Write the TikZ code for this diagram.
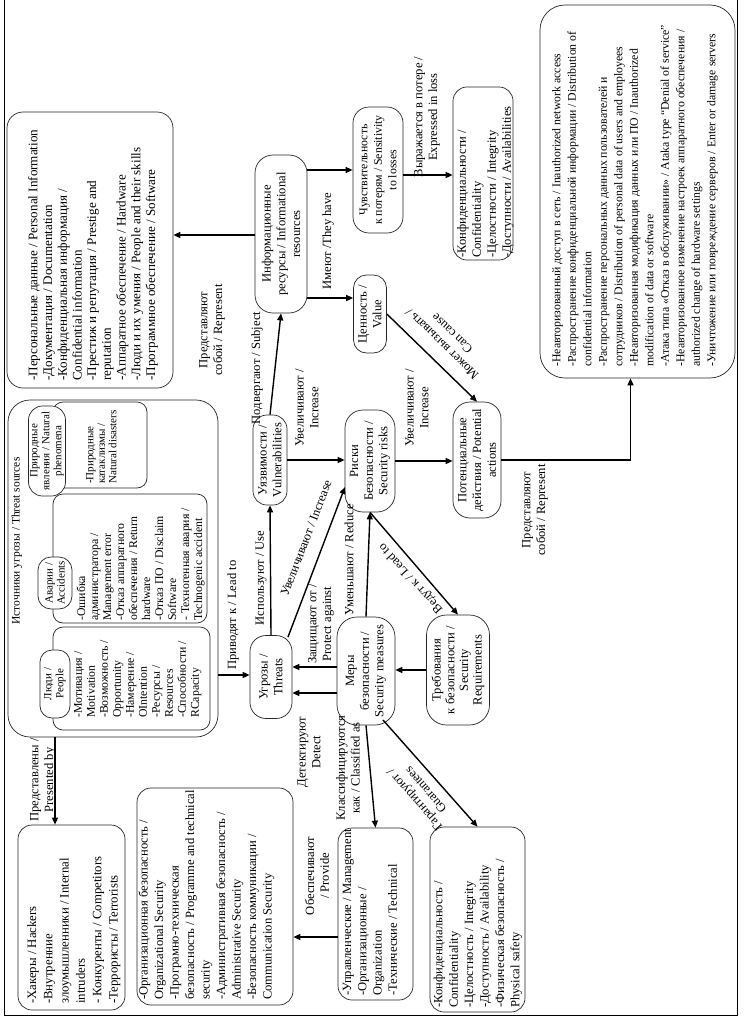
\documentclass[tikz,border=0pt]{standalone}
\usepackage{fontspec}
\setmainfont{Liberation Serif}
\usetikzlibrary{arrows.meta,calc}
\begin{document}
\begin{tikzpicture}[x=1pt,y=-1pt,
  base/.style={rotate=90, inner sep=1pt, font=\fontsize{12.6}{14.7}\selectfont},
  pill/.style n args={3}{base, draw=black!85, line width=0.7pt, fill=white, align=center, minimum width=#1, minimum height=#2, rounded corners=#3},
  spill/.style n args={3}{pill={#1}{#2}{#3}, font=\fontsize{11}{12}\selectfont},
  dbox/.style n args={2}{rotate=90, draw=black!85, line width=0.7pt, fill=white, minimum width=#1, minimum height=#2, rounded corners=10pt, inner sep=0pt},
  btext/.style={rotate=90, inner sep=0pt, align=left, anchor=north west},
  lbl/.style={base, align=center},
  dlbl/.style={inner sep=1pt, font=\fontsize{12.6}{14.7}\selectfont, align=center},
  small/.style={btext, font=\fontsize{11.8}{13}\selectfont},
  arr/.style={-{Triangle[length=7pt,width=6pt]}, line width=1.4pt},
]
\useasboundingbox (0,0) rectangle (744,1020);
\draw[line width=0.6pt] (4,0) -- (4,1015) -- (737,1015) -- (737,0);

% ---------- top area ----------
\node[dbox={276pt}{166pt}, rounded corners=16pt] (assets) at (90,250) {};
\node[btext, font=\fontsize{13.1}{14.7}\selectfont] (assetsT) at (28,381) {-Персональные данные / Personal Information\\-Документация / Documentation\\-Конфиденциальная информация /\\Confidential information\\-Престиж и репутация / Prestige and\\reputation\\-Аппаратное обеспечение / Hardware\\-Люди и их умения / People and their skills\\-Программное обеспечение / Software};

\node[pill={158pt}{52pt}{18pt}] (info) at (281,234) {Информационные\\ресурсы / Informational\\resources};
\node[pill={126pt}{50pt}{16pt}, font=\fontsize{11.8}{14.5}\selectfont] (sens) at (378,170) {Чувствительность\\к потерям / Sensitivity\\to losses};
\node[pill={78pt}{33pt}{13pt}] (value) at (370,314) {Ценность /\\Value};
\node[dbox={173pt}{60pt}, rounded corners=14pt] (cia1) at (483,173.5) {};
\node[btext, font=\fontsize{12.6}{15}\selectfont] (cia1T) at (457,258) {-Конфиденциальности /\\Confidentiality\\-Целостности / Integrity\\-Доступности / Availabilities};
\node[dbox={373pt}{195pt}, rounded corners=25pt] (threatsList) at (637.5,191.5) {};
\node[small, font=\fontsize{11.8}{15.5}\selectfont] (threatsT) at (552,367) {-Неавторизованный доступ в сеть / Inauthorized network access\\-Распространение конфиденциальной информации / Distribution of\\confidential information\\-Распространение персональных данных пользователей и\\сотрудников / Distribution of personal data of users and employees\\-Неавторизованная модификация данных или ПО / Inauthorized\\modification of data or software\\-Атака типа «Отказ в обслуживании» / Ataka type “Denial of service”\\-Неавторизованное изменение настроек аппаратного обеспечения /\\authorized change of hardware settings\\-Уничтожение или повреждение серверов / Enter or damage servers};
\node[pill={116pt}{48pt}{17pt}] (potential) at (477,460) {Потенциальные\\действия / Potential\\actions};

% ---------- threat sources ----------
\node[dbox={337pt}{210pt}, rounded corners=22pt] (sources) at (113,568.5) {};
\node[lbl, font=\fontsize{11.5}{13}\selectfont] (srcTitle) at (17,541) {Источники угрозы / Threat sources};
\node[dbox={86pt}{94pt}] (natDet) at (100,445) {};
\node[dbox={129pt}{154pt}] (accDet) at (130,558.5) {};
\node[dbox={103pt}{157pt}] (peoDet) at (131.5,678.5) {};
\node[small, font=\fontsize{11}{11.5}\selectfont] (natT) at (86,484) {-Природные\\катаклизмы /\\Natural disasters};
\node[small] (accT) at (76.5,621) {-Ошибка\\администратора /\\Management error\\-Отказ аппаратного\\обеспечения / Return\\hardware\\-Отказ ПО / Disclaim\\Software\\- Техногенная авария /\\Technogenic accident};
\node[small] (peoT) at (74,718) {-Мотивация /\\Motivation\\-Возможность /\\Opportunity\\-Намерение /\\OIntention\\-Ресурсы /\\Resources\\-Способности /\\RCapacity};
\node[spill={90pt}{37pt}{14pt}] (natural) at (47,451) {Природные\\явления / Natural\\phenomena};
\node[spill={52pt}{34pt}{13pt}] (accidents) at (55,583) {Аварии /\\Accidents};
\node[spill={68pt}{30pt}{12pt}] (people) at (55,684) {Люди /\\People};

% ---------- middle ----------
\node[pill={83pt}{42pt}{16pt}] (threats) at (271,677) {Угрозы /\\Threats};
\node[pill={90pt}{34pt}{14pt}] (vuln) at (270,460) {Уязвимости /\\Vulnerabilities};
\node[pill={102pt}{50pt}{18pt}] (risks) at (370,461) {Риски\\Безопасности /\\Security risks};
\node[pill={108pt}{58pt}{20pt}] (measures) at (366,671) {Меры\\безопасности /\\Security measures};
\node[pill={110pt}{63pt}{20pt}, font=\fontsize{12.6}{13.7}\selectfont] (req) at (458,670) {Требования\\к безопасности /\\Security\\Requirements};

% ---------- bottom boxes ----------
\node[dbox={185pt}{107pt}, rounded corners=14pt] (hackers) at (71.5,917.5) {};
\node[btext, font=\fontsize{12.8}{16.3}\selectfont] (hackersT) at (27,1004) {-Хакеры / Hackers\\-Внутренние\\злоумышленники / Internal\\intruders\\- Конкуренты / Competitors\\-Террористы / Terrorists};
\node[dbox={217pt}{156pt}, rounded corners=14pt] (orgSec) at (215,896.5) {};
\node[btext, font=\fontsize{12.6}{15.5}\selectfont] (orgSecT) at (138.5,1000) {-Организационная безопасность /\\Organizational Security\\-Програмно-техническая\\безопасность / Programme and technical\\security\\-Административная безопасность /\\Administrative Security\\-Безопасность коммуникации /\\Communication Security};
\node[dbox={172pt}{75pt}, rounded corners=14pt] (mgmt) at (375.5,914) {};
\node[btext, font=\fontsize{12.6}{15.3}\selectfont] (mgmtT) at (342.5,996) {-Управленческие / Management\\-Организационные /\\Organization\\-Технические / Technical};
\node[dbox={185pt}{95pt}, rounded corners=14pt] (cia2) at (477.5,919.5) {};
\node[btext, font=\fontsize{12.6}{15.4}\selectfont] (cia2T) at (433.5,1008) {-Конфиденциальность /\\Confidentiality\\-Целостность / Integrity\\-Доступность / Availability\\-Физическая безопасность /\\Physical safety};

% ---------- connectors ----------
\draw[arr] (info.north |- 0,235) -- (assets.south |- 0,235);
\draw[arr] (vuln.east) -- (info.west);
\draw[arr] (info.south |- 0,170) -- (sens.north |- 0,170);
\draw[arr] (info.south |- 0,298) -- (value.north |- 0,298);
\draw[arr] (sens.south |- 0,175) -- (cia1.north |- 0,175);
\draw[arr] (value.south) -- (potential.east);
\draw[arr] (potential.south) -| ([xshift=-7pt]threatsList.west);
\draw[arr] (sources.south |- 0,675) -- (threats.north |- 0,675);
\draw[arr] (threats.east) -- (vuln.west);
\draw[arr] (vuln.south) -- (risks.north |- vuln.south);
\draw[arr] ([shift={(17,-40)}]threats.center) -- ([shift={(-25,26)}]risks.center);
\draw[arr] (risks.south) -- (potential.north |- risks.south);
\draw[arr] (measures.east) -- (risks.west);
\draw[arr] (measures.north |- 0,667) -- (threats.south |- 0,667);
\draw[arr] (measures.north |- 0,693) -- (threats.south |- 0,693);
\draw[arr] (req.north |- 0,670) -- (measures.south |- 0,670);
\draw[arr] (risks.west) -- (req.east);
\draw[arr] (measures.west) -- (mgmt.east);
\draw[arr] ([shift={(17,49)}]measures.center) -- (cia2.east);
\draw[arr] (mgmt.north |- 0,937) -- (orgSec.south |- 0,937);
\draw[arr] (55,0 |- sources.west) -- (55,0 |- hackers.east);

% ---------- labels ----------
\node[lbl] (l1) at (212,330) {Представляют\\собой / Represent};
\node[lbl] (l2) at (257,368) {Подвергают / Subject};
\node[lbl] (l3) at (328,241) {Имеют /They have};
\node[lbl] (l4) at (427,117) {Выражается в потере /\\Expressed in loss};
\node[dlbl, rotate=136] (l5) at (447,339) {Может вызывать /\\Can cause};
\node[lbl] (l6) at (535,510) {Представляют\\собой / Represent};
\node[lbl] (l7) at (233,615) {Приводят к / Lead to};
\node[lbl] (l8) at (261,578) {Используют / Use};
\node[lbl] (l9) at (307,408) {Увеличивают /\\Increase};
\node[dlbl, rotate=69] (l10) at (306,538) {Увеличивают / Increase};
\node[lbl] (l11) at (417,408) {Увеличивают /\\Increase};
\node[lbl] (l12) at (349,560) {Уменьшают / Reduce};
\node[lbl] (l13) at (321,624) {Защищают от /\\Protect against};
\node[lbl] (l14) at (309,752) {Детектируют\\Detect};
\node[dlbl, rotate=132] (l15) at (411,578) {Ведут к / Lead to};
\node[lbl] (l16) at (348,768) {Классифицируются\\как / Classified as};
\node[lbl] (l17) at (317,876) {Обеспечивают\\/ Provide};
\node[dlbl, rotate=131] (l18) at (420,795) {Гарантируют /\\Guarantees};
\node[lbl] (l19) at (43,780) {Представлены /\\Presented by};
\end{tikzpicture}
\end{document}
